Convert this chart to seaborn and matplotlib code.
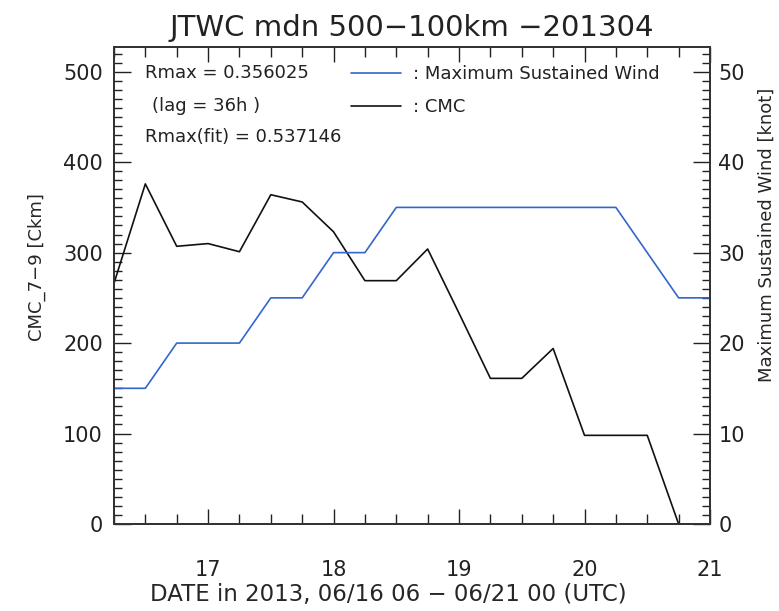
import seaborn as sns
import matplotlib.pyplot as plt
import matplotlib.ticker as mticker
from matplotlib.lines import Line2D
import pandas as pd

# time axis in days of June 2013 (6-hourly)
wind_time = [16.25, 16.5, 16.75, 17.0, 17.25, 17.5, 17.75, 18.0, 18.25, 18.5,
             18.75, 19.0, 19.25, 19.5, 19.75, 20.0, 20.25, 20.5, 20.75, 21.0]
wind_knot = [15, 15, 20, 20, 20, 25, 25, 30, 30, 35,
             35, 35, 35, 35, 35, 35, 35, 30, 25, 25]

cmc_time = [16.25, 16.5, 16.75, 17.0, 17.25, 17.5, 17.75, 18.0, 18.25, 18.5,
            18.75, 19.0, 19.25, 19.5, 19.75, 20.0, 20.25, 20.5, 20.75]
cmc_ckm = [266, 376, 307, 310, 301, 364, 356, 323, 269, 269,
           304, 233, 161, 161, 194, 98, 98, 98, 0]

x_ticks = [17, 18, 19, 20, 21]
left_ticks = [0, 100, 200, 300, 400, 500]
right_ticks = [0, 10, 20, 30, 40, 50]

wind = pd.DataFrame({'t': wind_time, 'w': wind_knot})
cmc = pd.DataFrame({'t': cmc_time, 'c': cmc_ckm})

sns.set_style('ticks')
plt.rcParams['font.family'] = ['DejaVu Sans']
plt.rcParams['text.color'] = '#222222'
plt.rcParams['xtick.color'] = '#222222'
plt.rcParams['ytick.color'] = '#222222'

fig = plt.figure(figsize=(7.79, 6.11), dpi=100)
ax = fig.add_axes([0.1463, 0.1424, 0.7651, 0.7802])
ax2 = ax.twinx()

blue = '#3366cc'
sns.lineplot(data=cmc, x='t', y='c', ax=ax, color='#111111', linewidth=1.2)
sns.lineplot(data=wind, x='t', y='w', ax=ax2, color=blue, linewidth=1.2)

ax.set_xlim(16.25, 21.0)
ax.set_ylim(0, 527)
ax2.set_ylim(0, 52.7)

ax.set_xticks(x_ticks)
ax.set_xticklabels([str(v) for v in x_ticks])
ax.xaxis.set_minor_locator(mticker.MultipleLocator(0.25))
ax.set_yticks(left_ticks)
ax.yaxis.set_minor_locator(mticker.MultipleLocator(10))
ax2.set_yticks(right_ticks)
ax2.yaxis.set_minor_locator(mticker.MultipleLocator(1))

ax.tick_params(axis='x', which='both', direction='in', top=True, bottom=True,
               labelsize=15, pad=26)
ax.tick_params(axis='x', which='major', length=11, width=1)
ax.tick_params(axis='x', which='minor', length=7, width=1)
ax.tick_params(axis='y', which='both', direction='in', left=True, right=False,
               labelsize=15, pad=8)
ax.tick_params(axis='y', which='major', length=12, width=1)
ax.tick_params(axis='y', which='minor', length=6, width=1)
ax2.tick_params(axis='y', which='both', direction='in', right=True,
                labelsize=15, pad=6)
ax2.tick_params(axis='y', which='major', length=12, width=1)
ax2.tick_params(axis='y', which='minor', length=6, width=1)
for lab in ax.get_yticklabels() + ax2.get_yticklabels():
    lab.set_va('center_baseline')

for a in (ax, ax2):
    for s in a.spines.values():
        s.set_color('#333333')
        s.set_linewidth(1.3)

ax.set_title('JTWC mdn 500\u2212100km \u2212201304', fontsize=21, pad=8)
ax.set_xlabel('DATE in 2013, 06/16 06 \u2212 06/21 00 (UTC)', fontsize=16.5, va='center')
ax.xaxis.set_label_coords(0.46, -0.147)
ax.set_ylabel('CMC_7\u22129 [Ckm]', fontsize=13, va='center', ha='center')
ax.yaxis.set_label_coords(-0.129, 0.539)
ax2.set_ylabel('Maximum Sustained Wind [knot]', fontsize=13, va='center', ha='center',
               rotation=90)
ax2.yaxis.set_label_coords(1.0957, 0.606)

ax.text(0.052, 0.9455, 'Rmax = 0.356025', transform=ax.transAxes, fontsize=13, va='center')
ax.text(0.064, 0.876, '(lag = 36h )', transform=ax.transAxes, fontsize=13, va='center')
ax.text(0.052, 0.811, 'Rmax(fit) = 0.537146', transform=ax.transAxes, fontsize=13, va='center')

handles = [Line2D([], [], color=blue, lw=1.2), Line2D([], [], color='#111111', lw=1.2)]
ax.legend(handles, [': Maximum Sustained Wind', ': CMC'], loc='upper left',
          bbox_to_anchor=(0.398, 0.963), frameon=False, fontsize=13,
          handlelength=2.75, handletextpad=0.65, labelspacing=0.85,
          borderpad=0, borderaxespad=0)

fig.savefig('out.png', dpi=100)
